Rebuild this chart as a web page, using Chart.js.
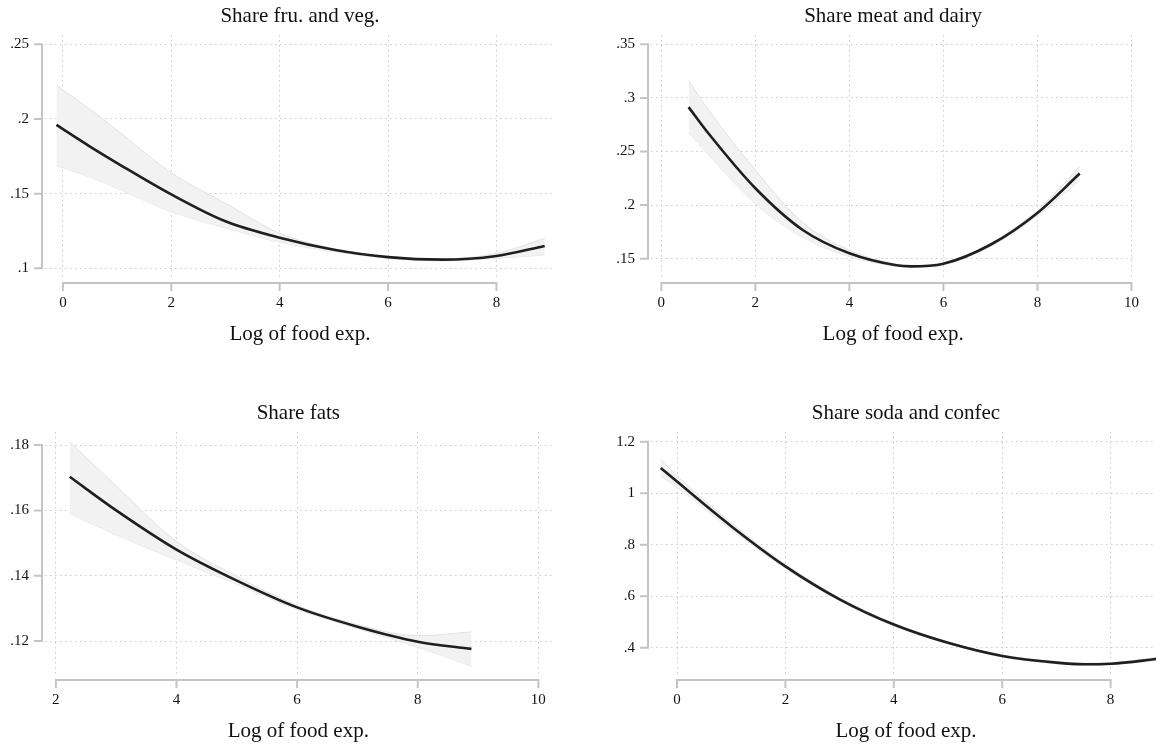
<!DOCTYPE html>
<html>
<head>
<meta charset="utf-8">
<script src="https://cdn.jsdelivr.net/npm/chart.js@4.4.1/dist/chart.umd.min.js"></script>
<style>
  html, body { margin: 0; padding: 0; background: #fff; }
  body { width: 1156px; height: 744px; position: relative; overflow: hidden; }
  canvas { position: absolute; }
</style>
</head>
<body>
<canvas id="c1" width="560" height="347" style="left:0px;top:0px"></canvas>
<canvas id="c2" width="550" height="347" style="left:606px;top:0px"></canvas>
<canvas id="c3" width="563" height="347" style="left:0px;top:397px"></canvas>
<canvas id="c4" width="560" height="347" style="left:606px;top:397px"></canvas>
<script>
'use strict';

// ---- Share fru. and veg.
const fvX   = [-0.12, 0.5, 1, 2, 3, 4, 5, 6, 7, 8, 8.89];
const fvFit = [0.196, 0.1815, 0.1705, 0.1495, 0.1315, 0.1205, 0.1125, 0.1075, 0.1058, 0.1083, 0.115];
const fvHi  = [0.2226, 0.2065, 0.1925, 0.164, 0.1435, 0.1235, 0.1132, 0.108, 0.1064, 0.110, 0.120];
const fvLo  = [0.169, 0.161, 0.1535, 0.1379, 0.127, 0.1175, 0.1112, 0.1068, 0.105, 0.1067, 0.109];
const fvXTicks = [0, 2, 4, 6, 8];
const fvYTicks = [0.1, 0.15, 0.2, 0.25];
const fvYLabels = ['.1', '.15', '.2', '.25'];

// ---- Share meat and dairy
const mdX   = [0.58, 1, 2, 3, 4, 5, 5.3, 6, 7, 8, 8.9];
const mdFit = [0.2914, 0.267, 0.2157, 0.177, 0.155, 0.1438, 0.1428, 0.1453, 0.163, 0.1927, 0.2294];
const mdHi  = [0.316, 0.289, 0.2327, 0.184, 0.158, 0.1448, 0.1438, 0.146, 0.1645, 0.195, 0.236];
const mdLo  = [0.268, 0.247, 0.201, 0.170, 0.152, 0.1428, 0.1418, 0.1445, 0.1615, 0.190, 0.223];
const mdXTicks = [0, 2, 4, 6, 8, 10];
const mdYTicks = [0.15, 0.2, 0.25, 0.3, 0.35];
const mdYLabels = ['.15', '.2', '.25', '.3', '.35'];

// ---- Share fats
const ftX   = [2.23, 3, 4, 5, 6, 7, 8, 8.89];
const ftFit = [0.1703, 0.160, 0.148, 0.1385, 0.1303, 0.1244, 0.1198, 0.1176];
const ftHi  = [0.181, 0.1675, 0.1505, 0.1398, 0.1309, 0.125, 0.1216, 0.1228];
const ftLo  = [0.159, 0.1525, 0.1448, 0.1374, 0.1297, 0.1238, 0.1181, 0.1123];
const ftXTicks = [2, 4, 6, 8, 10];
const ftYTicks = [0.12, 0.14, 0.16, 0.18];
const ftYLabels = ['.12', '.14', '.16', '.18'];

// ---- Share soda and confec
const scX   = [-0.3, 0, 1, 2, 3, 4, 5, 6, 7, 7.5, 8, 8.89];
const scFit = [1.098, 1.045, 0.872, 0.716, 0.588, 0.49, 0.419, 0.368, 0.342, 0.336, 0.338, 0.357];
const scHi  = [1.13, 1.068, 0.885, 0.724, 0.594, 0.495, 0.423, 0.372, 0.346, 0.340, 0.342, 0.363];
const scLo  = [1.066, 1.022, 0.859, 0.708, 0.582, 0.485, 0.415, 0.364, 0.338, 0.332, 0.334, 0.351];
const scXTicks = [0, 2, 4, 6, 8];
const scYTicks = [0.4, 0.6, 0.8, 1, 1.2];
const scYLabels = ['.4', '.6', '.8', '1', '1.2'];

const xTitle = 'Log of food exp.';
const serif = '"Liberation Serif", "Times New Roman", serif';

// stata-like offset axes + panel title
const stataAxes = {
  id: 'stataAxes',
  afterDraw(chart, args, opts) {
    const {ctx, chartArea: a, scales: {x, y}} = chart;
    ctx.save();
    ctx.strokeStyle = '#c4c4c4';
    ctx.lineWidth = 2;
    const yp = y.ticks.map(t => y.getPixelForValue(t.value));
    const ax = a.left - 3;
    ctx.beginPath();
    ctx.moveTo(ax, Math.min(...yp) - 1);
    ctx.lineTo(ax, Math.max(...yp) + 1);
    yp.forEach(p => { ctx.moveTo(ax, p); ctx.lineTo(ax - 8, p); });
    const xp = x.ticks.map(t => x.getPixelForValue(t.value));
    const ay = a.bottom + 6;
    ctx.moveTo(Math.min(...xp) - 1, ay);
    ctx.lineTo(Math.max(...xp) + 1, ay);
    xp.forEach(p => { ctx.moveTo(p, ay); ctx.lineTo(p, ay + 8); });
    ctx.stroke();

    ctx.fillStyle = '#111';
    ctx.font = '21px ' + serif;
    ctx.textAlign = 'center';
    ctx.textBaseline = 'middle';
    ctx.fillText(opts.text, (a.left + a.right) / 2, 16);
    ctx.restore();
  }
};

function pts(xs, ys) {
  return xs.map((v, i) => ({x: v, y: ys[i]}));
}

function panel(id, title, xs, fit, hi, lo, xTicks, xMin, xMax, yTicks, yLabels, yMin, yMax, padRight) {
  const grid = {color: '#c9c9c9', lineWidth: 1, drawTicks: false};
  const border = {display: false, dash: [1.5, 3.5]};
  return new Chart(document.getElementById(id), {
    type: 'line',
    data: {
      datasets: [
        {data: pts(xs, fit), borderColor: '#1f1f1f', borderWidth: 2.6, pointRadius: 0,
         cubicInterpolationMode: 'monotone', fill: false},
        {data: pts(xs, hi), borderColor: '#e2e2e2', borderWidth: 1, pointRadius: 0,
         cubicInterpolationMode: 'monotone', backgroundColor: '#f2f2f2', fill: '+1'},
        {data: pts(xs, lo), borderColor: '#e2e2e2', borderWidth: 1, pointRadius: 0,
         cubicInterpolationMode: 'monotone', fill: false}
      ]
    },
    options: {
      responsive: false,
      animation: false,
      events: [],
      layout: {autoPadding: false, padding: {top: 35, right: padRight, bottom: 0, left: 0}},
      plugins: {legend: {display: false}, tooltip: {enabled: false}, stataAxes: {text: title}},
      scales: {
        x: {
          type: 'linear', min: xMin, max: xMax,
          grid: grid, border: border,
          afterBuildTicks: axis => { axis.ticks = xTicks.map(v => ({value: v})); },
          afterFit: axis => { axis.height = 70; },
          ticks: {padding: 17, autoSkip: false, maxRotation: 0, color: '#111',
                  font: {family: serif, size: 15}},
          title: {display: true, text: xTitle, color: '#111', padding: 0,
                  font: {family: serif, size: 21}}
        },
        y: {
          type: 'linear', min: yMin, max: yMax,
          grid: grid, border: border,
          afterBuildTicks: axis => { axis.ticks = yTicks.map(v => ({value: v})); },
          afterFit: axis => { axis.width = 45; },
          ticks: {padding: 16, autoSkip: false, color: '#111',
                  font: {family: serif, size: 15},
                  callback: (v, i) => yLabels[i]}
        }
      }
    },
    plugins: [stataAxes]
  });
}

panel('c1', 'Share fru. and veg.', fvX, fvFit, fvHi, fvLo, fvXTicks, -0.33, 9.08, fvYTicks, fvYLabels, 0.0942, 0.2562, 5);
panel('c2', 'Share meat and dairy', mdX, mdFit, mdHi, mdLo, mdXTicks, -0.22, 10.08, mdYTicks, mdYLabels, 0.1329, 0.3587, 4);
panel('c3', 'Share fats', ftX, ftFit, ftHi, ftLo, ftXTicks, 1.82, 10.22, ftYTicks, ftYLabels, 0.1099, 0.184, 5);
panel('c4', 'Share soda and confec', scX, scFit, scHi, scLo, scXTicks, -0.48, 8.93, scYTicks, scYLabels, 0.298, 1.2376, 5);
</script>
</body>
</html>
